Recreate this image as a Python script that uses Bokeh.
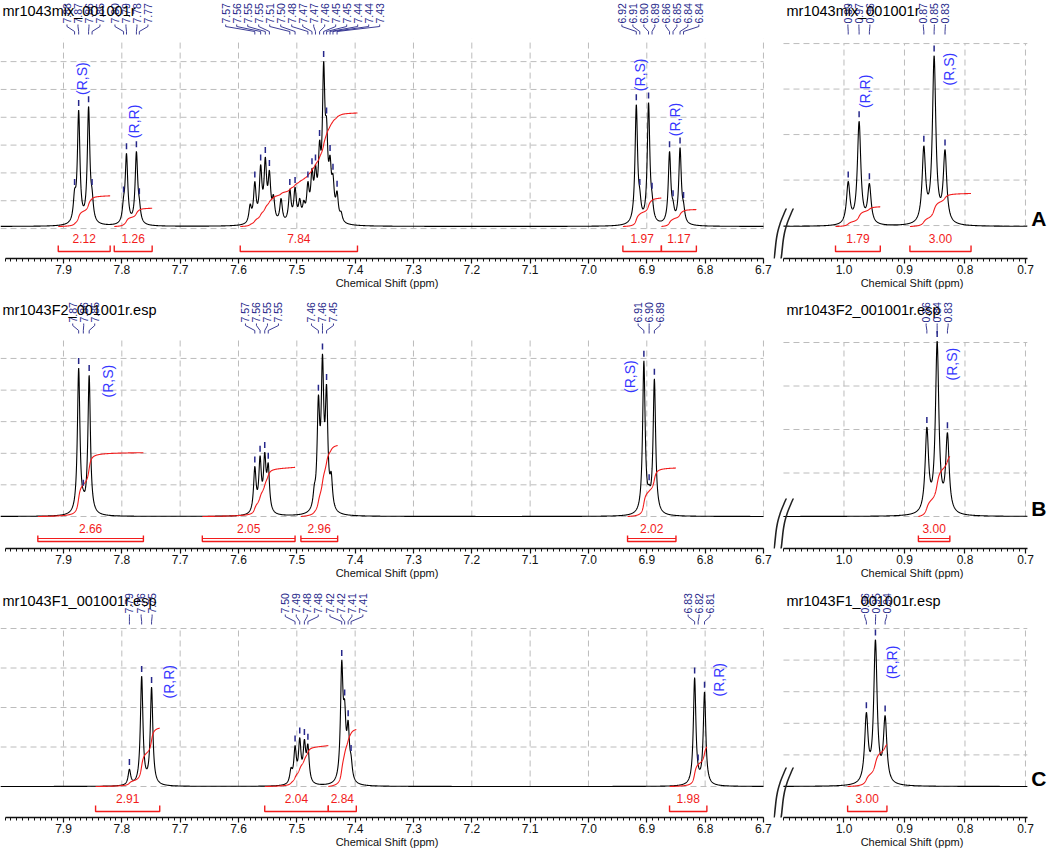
import numpy as np
from bokeh.plotting import figure
from bokeh.layouts import row, column
from bokeh.models import Range1d, FixedTicker, PrintfTickFormatter, PolyAnnotation
from bokeh.core.properties import value
from bokeh.embed import file_html
from bokeh.resources import INLINE

# ------------------------------------------------------------------ data
titles = ["mr1043mix_001001r", "mr1043F2_001001r.esp", "mr1043F1_001001r.esp"]
letters = ["A", "B", "C"]
x_title = "Chemical Shift (ppm)"
left_ticks = [7.9, 7.8, 7.7, 7.6, 7.5, 7.4, 7.3, 7.2, 7.1, 7.0, 6.9, 6.8, 6.7]
right_ticks = [1.0, 0.9, 0.8, 0.7]

# Row A (mixture) - aromatic window: peak ppm, apparent height (fraction of grid), picked label
A_ar_ppm = [7.881, 7.874, 7.857, 7.851, 7.797, 7.792, 7.775, 7.770,
            7.580, 7.572, 7.562, 7.554, 7.547, 7.540, 7.527, 7.512, 7.503, 7.495, 7.488,
            7.481, 7.474, 7.468, 7.461, 7.454, 7.449, 7.443, 7.438, 7.431, 7.424,
            6.918, 6.912, 6.897, 6.891, 6.861, 6.855, 6.843, 6.837]
A_ar_h = [0.20, 0.62, 0.64, 0.20, 0.16, 0.39, 0.40, 0.15,
          0.12, 0.24, 0.33, 0.37, 0.30, 0.17, 0.15, 0.20, 0.21, 0.15, 0.14,
          0.24, 0.31, 0.33, 0.46, 0.88, 0.58, 0.38, 0.28, 0.19, 0.08,
          0.65, 0.20, 0.66, 0.18, 0.40, 0.14, 0.42, 0.13]
A_ar_lab = ["7.88", "7.87", "7.86", "7.85", "7.80", "7.79", "7.78", "7.77",
            "", "7.57", "7.56", "7.55", "7.55", "", "", "7.51", "7.50", "", "",
            "7.48", "7.47", "7.47", "7.46", "7.45", "7.45", "7.44", "7.44", "7.43", "",
            "6.92", "6.91", "6.90", "6.89", "6.86", "6.85", "6.84", "6.84"]
A_ar_int_from = [7.909, 7.813, 7.597, 6.941, 6.875]
A_ar_int_to = [7.820, 7.748, 7.396, 6.875, 6.815]
A_ar_int_val = [2.12, 1.26, 7.84, 1.97, 1.17]

# Row A - aliphatic window
A_al_ppm = [0.993, 0.975, 0.958, 0.868, 0.851, 0.833]
A_al_h = [0.24, 0.56, 0.23, 0.43, 0.91, 0.41]
A_al_lab = ["0.99", "0.97", "0.96", "0.87", "0.85", "0.83"]
A_al_int_from = [1.014, 0.891]
A_al_int_to = [0.940, 0.790]
A_al_int_val = [1.79, 3.00]

# Row B (F2)
B_ar_ppm = [7.874, 7.866, 7.856, 7.572, 7.563, 7.555, 7.549,
            7.470, 7.463, 7.456, 7.449, 7.441, 6.905, 6.896, 6.887]
B_ar_h = [0.83, 0.15, 0.79, 0.28, 0.34, 0.36, 0.30,
          0.18, 0.68, 0.91, 0.74, 0.25, 0.87, 0.18, 0.77]
B_ar_lab = ["7.87", "7.86", "7.85", "7.57", "7.56", "7.55", "7.55",
            "", "7.46", "7.46", "7.45", "", "6.91", "6.90", "6.89"]
B_ar_int_from = [7.944, 7.662, 7.493, 6.933]
B_ar_int_to = [7.763, 7.503, 7.430, 6.850]
B_ar_int_val = [2.66, 2.05, 2.96, 2.02]

B_al_ppm = [0.863, 0.846, 0.829]
B_al_h = [0.50, 0.98, 0.47]
B_al_lab = ["0.86", "0.84", "0.83"]
B_al_int_from = [0.877]
B_al_int_to = [0.825]
B_al_int_val = [3.00]

# Row C (F1)
C_ar_ppm = [7.787, 7.766, 7.749, 7.510, 7.503, 7.495, 7.487, 7.481,
            7.423, 7.418, 7.412, 7.407, 6.818, 6.812, 6.801]
C_ar_h = [0.11, 0.70, 0.63, 0.12, 0.26, 0.31, 0.30, 0.27,
          0.80, 0.55, 0.42, 0.20, 0.69, 0.14, 0.60]
C_ar_lab = ["7.79", "7.76", "7.75", "", "7.50", "7.49", "7.48", "7.48",
            "7.42", "7.42", "7.41", "7.41", "6.83", "6.82", "6.81"]
C_ar_int_from = [7.845, 7.555, 7.446, 6.861]
C_ar_int_to = [7.735, 7.446, 7.398, 6.797]
C_ar_int_val = [2.91, 2.04, 2.84, 1.98]

C_al_ppm = [0.963, 0.948, 0.932]
C_al_h = [0.47, 0.93, 0.45]
C_al_lab = ["0.96", "0.95", "0.94"]
C_al_int_from = [0.994]
C_al_int_to = [0.929]
C_al_int_val = [3.00]

# ------------------------------------------------------------------ styling / layout
FONT = "Liberation Sans"
NAVY = "#26278a"
RED = "#f21c1c"
BLUE = "#3636ff"
GRID = "#bcbcbc"

# (figure top, grid top, baseline, axis) in page pixels
ROWS = [(0, 38, 226, 258), (291, 337, 516, 548), (581, 628, 786, 817)]
BOTTOM = 33
BREAK_PX = 763

LEFT = dict(fig_w=773, px0=0, x0=8.008, ppp=583.3, span=(6.70, 8.0), w=0.0026,
            ticks=left_ticks, minors=[round(6.70 + 0.01 * i, 2) for i in range(131)], title_dx=2)
RIGHT = dict(fig_w=277, px0=773, x0=1.1165, ppp=605.0, span=(0.697, 1.10), w=0.0034,
             ticks=right_ticks, minors=[round(0.70 + 0.01 * i, 2) for i in range(41)], title_dx=13)

PANELS = [
    dict(row=0, side="L", ppm=A_ar_ppm, h=A_ar_h, lab=A_ar_lab, f=A_ar_int_from, t=A_ar_int_to,
         v=A_ar_int_val, scale=0.077, hl=[-0.011, 0.137, 0.285, 0.433, 0.581, 0.729, 0.877], vtop=1.0,
         tags=[("(R,S)", 7.869, 0.70), ("(R,R)", 7.779, 0.47), ("(R,S)", 6.911, 0.72), ("(R,R)", 6.852, 0.48)],
         double=False),
    dict(row=0, side="R", ppm=A_al_ppm, h=A_al_h, lab=A_al_lab, f=A_al_int_from, t=A_al_int_to,
         v=A_al_int_val, scale=0.0585, hl=[0.005, 0.247, 0.489, 0.731, 0.973], vtop=0.973,
         tags=[("(R,R)", 0.966, 0.63), ("(R,S)", 0.827, 0.75)], double=False),
    dict(row=1, side="L", ppm=B_ar_ppm, h=B_ar_h, lab=B_ar_lab, f=B_ar_int_from, t=B_ar_int_to,
         v=B_ar_int_val, scale=0.134, hl=[0.0, 0.177, 0.353, 0.53, 0.706, 0.883], vtop=1.0,
         tags=[("(R,S)", 7.823, 0.665), ("(R,S)", 6.929, 0.69)], double=True),
    dict(row=1, side="R", ppm=B_al_ppm, h=B_al_h, lab=B_al_lab, f=B_al_int_from, t=B_al_int_to,
         v=B_al_int_val, scale=0.112, hl=[0.0, 0.243, 0.486, 0.729, 0.972], vtop=0.972,
         tags=[("(R,S)", 0.821, 0.76)], double=True),
    dict(row=2, side="L", ppm=C_ar_ppm, h=C_ar_h, lab=C_ar_lab, f=C_ar_int_from, t=C_ar_int_to,
         v=C_ar_int_val, scale=0.127, hl=[0.0, 0.25, 0.5, 0.75, 1.0], vtop=1.0,
         tags=[("(R,R)", 7.719, 0.557), ("(R,R)", 6.776, 0.57)], double=False),
    dict(row=2, side="R", ppm=C_al_ppm, h=C_al_h, lab=C_al_lab, f=C_al_int_from, t=C_al_int_to,
         v=C_al_int_val, scale=0.089, hl=[0.0, 0.2, 0.4, 0.6, 0.8, 1.0], vtop=1.0,
         tags=[("(R,R)", 0.920, 0.68)], double=False),
]


def amplitudes(ppm, h, w):
    P = np.asarray(ppm, float)
    H = np.asarray(h, float)
    M = 1.0 / (1.0 + ((P[:, None] - P[None, :]) / w) ** 2)
    return np.clip(np.linalg.solve(M, H), 0, None)


def spectrum(x, ppm, amp, w):
    x = np.asarray(x, float)[:, None]
    P = np.asarray(ppm, float)[None, :]
    return (amp[None, :] / (1.0 + ((x - P) / w) ** 2)).sum(axis=1)


def place(desired, s):
    order = np.argsort(desired)
    clusters = []
    for i in order:
        clusters.append([[desired[i]], desired[i]])
        while len(clusters) > 1:
            prev, cur = clusters[-2], clusters[-1]
            prev_end = prev[1] + (len(prev[0]) - 1) * s
            if cur[1] < prev_end + s:
                members = prev[0] + cur[0]
                center = float(np.mean(members))
                clusters[-2:] = [[members, center - (len(members) - 1) * s / 2.0]]
            else:
                break
    slots = []
    for c in clusters:
        for k in range(len(c[0])):
            slots.append(c[1] + k * s)
    out = np.empty(len(desired))
    out[order] = slots
    return out


def txt(p, x, y, t, size, color, align="left", baseline="middle", angle=0.0, style="normal"):
    p.text(x=list(x), y=list(y), text=list(t), angle=angle, text_align=align,
           text_baseline=baseline, text_font=value(FONT), text_font_size=size,
           text_color=color, text_font_style=style)


def build(pn):
    top, gtop, base, axis = ROWS[pn["row"]]
    S = LEFT if pn["side"] == "L" else RIGHT
    unit = float(base - gtop)
    x0, ppp, px0 = S["x0"], S["ppp"], S["px0"]
    x_end = x0 - S["fig_w"] / ppp

    def xd(px):
        return x0 - (px - px0) / ppp

    def yd(py):
        return (base - py) / unit

    p = figure(width=S["fig_w"], height=axis - top + BOTTOM,
               x_range=Range1d(x0, x_end), y_range=Range1d(yd(axis), yd(top)),
               output_backend="svg", toolbar_location=None, y_axis_location=None,
               min_border_left=0, min_border_right=0, min_border_top=0,
               min_border_bottom=BOTTOM)
    p.grid.visible = False
    p.outline_line_color = None
    p.background_fill_color = "white"
    p.border_fill_color = "white"

    ax = p.xaxis[0]
    ax.ticker = FixedTicker(ticks=S["ticks"], minor_ticks=S["minors"])
    ax.formatter = PrintfTickFormatter(format="%.1f")
    ax.bounds = S["span"]
    ax.axis_label = x_title
    ax.axis_label_text_font = FONT
    ax.axis_label_text_font_size = "11px"
    ax.axis_label_text_font_style = "normal"
    ax.axis_label_text_color = "#111111"
    ax.axis_label_standoff = 0
    ax.major_label_text_font = FONT
    ax.major_label_text_font_size = "12px"
    ax.major_label_text_color = "#111111"
    ax.major_label_standoff = 1
    ax.major_tick_out = 5
    ax.major_tick_in = 0
    ax.minor_tick_out = 3
    ax.minor_tick_in = 0
    ax.axis_line_width = 1.5
    ax.axis_line_color = "#111111"
    ax.major_tick_line_color = "#111111"
    ax.minor_tick_line_color = "#111111"
    ax.major_tick_line_width = 1.2

    lo, hi = S["span"]
    gx0 = x0 if pn["side"] == "L" else hi
    hl = pn["hl"]
    # dashed grid box
    p.segment(x0=[gx0] * len(hl), x1=[lo] * len(hl), y0=hl, y1=hl,
              line_color=GRID, line_dash="6 4", line_width=1)
    vx = list(S["ticks"])
    p.segment(x0=vx, x1=vx, y0=[min(hl)] * len(vx), y1=[pn["vtop"]] * len(vx),
              line_color=GRID, line_dash="6 4", line_width=1)

    # spectrum
    w = S["w"]
    amp = amplitudes(pn["ppm"], pn["h"], w)
    xs = np.linspace(gx0, lo, int((gx0 - lo) / 0.0004))
    p.line(xs, spectrum(xs, pn["ppm"], amp, w), line_color="black", line_width=1.1)

    # integrals
    bx, by = [], []
    for a, b, v in zip(pn["f"], pn["t"], pn["v"]):
        xx = np.linspace(a, b, 400)
        c = np.cumsum(spectrum(xx, pn["ppm"], amp, w))
        c = (c - c[0]) / (c[-1] - c[0]) * v * pn["scale"]
        p.line(xx, c, line_color=RED, line_width=1.1)
        bx.append([a, a, b, b])
        by.append([yd(base + 19), yd(base + 25), yd(base + 25), yd(base + 19)])
    p.multi_line(bx, by, line_color=RED, line_width=1.4)
    if pn["double"]:
        n = len(pn["f"])
        p.segment(x0=pn["f"], x1=pn["t"], y0=[yd(base + 22)] * n, y1=[yd(base + 22)] * n,
                  line_color=RED, line_width=1.2)
    txt(p, [(a + b) / 2 for a, b in zip(pn["f"], pn["t"])], [yd(base + 12)] * len(pn["f"]),
        ["%.2f" % v for v in pn["v"]], "12px", RED, align="center")

    # peak picking: markers, connectors, labels
    P = np.asarray(pn["ppm"], float)
    idx = [i for i, l in enumerate(pn["lab"]) if l]
    lp = P[idx]
    ltxt = [pn["lab"][i] for i in idx]
    vals = spectrum(lp, pn["ppm"], amp, w)
    p.segment(x0=lp, x1=lp, y0=vals + 4 / unit, y1=vals + 10 / unit,
              line_color=NAVY, line_width=1.5)
    slots_px = place((x0 - lp) * ppp, 11.0)
    slots = x0 - slots_px / ppp

    def yl(off):
        return (unit + off) / unit

    p.multi_line([[s, s, q, q] for s, q in zip(slots, lp)],
                 [[yl(14), yl(12), yl(7), yl(4)] for _ in slots],
                 line_color=NAVY, line_width=0.9)
    txt(p, slots, [yl(15)] * len(slots), ltxt, "10.5px", NAVY, angle=np.pi / 2)

    # stereo tags
    for t, xp, yb in pn["tags"]:
        txt(p, [xp], [yb], [t], "14px", BLUE, angle=np.pi / 2)

    # spectrum title
    txt(p, [xd(px0 + S["title_dx"])], [yd(gtop - 28)], [titles[pn["row"]]], "14.5px", "black")

    if pn["side"] == "R":
        txt(p, [xd(1046)], [yd(base - 8)], [letters[pn["row"]]], "21px", "black",
            align="right", style="bold")

    # axis break (drawn in both panels of the row)
    tt = np.linspace(0, 1, 40)
    for dx in (0, 7):
        cx = BREAK_PX + dx + 22 * (tt + 0.1 * np.sin(2 * np.pi * tt))
        cy = axis + 30 - 80 * tt
        rx = np.concatenate([cx, (cx + 1.6)[::-1]])
        ry = np.concatenate([cy, cy[::-1]])
        p.add_layout(PolyAnnotation(xs=[xd(v) for v in rx], ys=[yd(v) for v in ry],
                                    xs_units="data", ys_units="data",
                                    fill_color="#222222", fill_alpha=1.0, line_color=None))
    return p


figs = [build(pn) for pn in PANELS]
layout = column(row(figs[0], figs[1]), row(figs[2], figs[3]), row(figs[4], figs[5]))

open("out.html", "w").write(file_html(layout, INLINE, title="NMR spectra"))
